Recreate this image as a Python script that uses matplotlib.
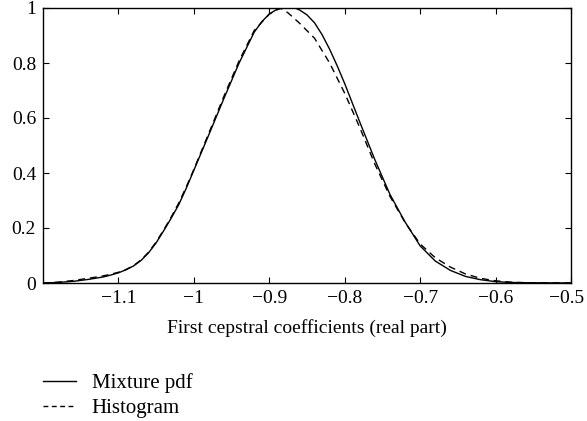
import matplotlib
matplotlib.use("Agg")
import matplotlib.pyplot as plt
import matplotlib.transforms as mtransforms

x_mix = [-1.20, -1.18, -1.16, -1.14, -1.12, -1.11, -1.10, -1.09, -1.08, -1.07, -1.06,
         -1.05, -1.04, -1.03, -1.02, -1.01, -1.00, -0.98, -0.96, -0.94, -0.92,
         -0.91, -0.90, -0.89, -0.88, -0.87, -0.865, -0.86, -0.85, -0.84, -0.83,
         -0.82, -0.81, -0.80, -0.78, -0.76, -0.74, -0.72, -0.70,
         -0.68, -0.66, -0.64, -0.62, -0.60, -0.58, -0.56, -0.50]
y_mix = [0.000, 0.002, 0.006, 0.013, 0.022, 0.029, 0.037, 0.048, 0.062, 0.082, 0.110,
         0.146, 0.190, 0.236, 0.285, 0.345, 0.410, 0.540, 0.672, 0.800, 0.912,
         0.950, 0.978, 0.995, 1.000, 1.000, 0.999, 0.993, 0.975, 0.946, 0.903,
         0.850, 0.790, 0.725, 0.585, 0.448, 0.322, 0.222, 0.135,
         0.080, 0.046, 0.024, 0.012, 0.005, 0.002, 0.001, 0.000]

x_hist = [-1.20, -1.18, -1.16, -1.14, -1.12, -1.11, -1.10, -1.09, -1.08, -1.07, -1.06,
          -1.05, -1.04, -1.03, -1.02, -1.01, -1.00, -0.98, -0.96, -0.94, -0.92,
          -0.90, -0.885, -0.875, -0.86, -0.84, -0.82, -0.80, -0.78, -0.76, -0.74,
          -0.72, -0.70, -0.68, -0.66, -0.64, -0.62, -0.60, -0.58, -0.56, -0.50]
y_hist = [0.000, 0.003, 0.009, 0.017, 0.026, 0.032, 0.039, 0.049, 0.063, 0.084, 0.112,
          0.149, 0.193, 0.240, 0.291, 0.350, 0.413, 0.546, 0.680, 0.808, 0.918,
          0.978, 1.000, 0.982, 0.945, 0.890, 0.800, 0.690, 0.565, 0.432, 0.315,
          0.220, 0.142, 0.092, 0.058, 0.033, 0.017, 0.008, 0.003, 0.001, 0.000]

xticks = [-1.1, -1.0, -0.9, -0.8, -0.7, -0.6, -0.5]
xticklabels = ["\u22121.1", "\u22121", "\u22120.9", "\u22120.8", "\u22120.7", "\u22120.6", "\u22120.5"]
yticks = [0, 0.2, 0.4, 0.6, 0.8, 1.0]
yticklabels = ["0", "0.2", "0.4", "0.6", "0.8", "1"]

plt.rcParams['font.family'] = ['Liberation Serif', 'DejaVu Serif']
plt.rcParams['font.size'] = 14

fig = plt.figure(figsize=(5.87, 4.21), dpi=100)
ax = fig.add_axes([43/587, 1-283/421, (571-43)/587, (283-8)/421])

l1, = ax.plot(x_mix, y_mix, color='black', lw=1.0, ls='-', label='Mixture pdf')
l2, = ax.plot(x_hist, y_hist, color='black', lw=1.0, ls=(0, (5, 3.5)), label='Histogram')

ax.set_xlim(-1.2, -0.5)
ax.set_ylim(0, 1)
ax.set_xticks(xticks)
ax.set_xticklabels(xticklabels)
ax.set_yticks(yticks)
ax.set_yticklabels(yticklabels)
ax.tick_params(direction='in', top=True, right=True, length=4, width=0.8, labelsize=14, pad=5)
for s in ax.spines.values():
    s.set_linewidth(1.0)
ax.set_xlabel('First cepstral coefficients (real part)', fontsize=14, labelpad=9)

# nudge the last x tick label so it stays inside the figure
last = ax.get_xticklabels()[-1]
last.set_transform(last.get_transform() + mtransforms.ScaledTranslation(-4/100, 0, fig.dpi_scale_trans))

leg = fig.legend(handles=[l1, l2], loc='upper left', bbox_to_anchor=(35/587, 1-365/421),
                 frameon=False, fontsize=15, handlelength=1.55, handletextpad=0.78,
                 labelspacing=0.25, borderaxespad=0)
leg.get_lines()[1].set_linestyle((0, (3.5, 2.5)))

fig.savefig('out.png', dpi=100)
